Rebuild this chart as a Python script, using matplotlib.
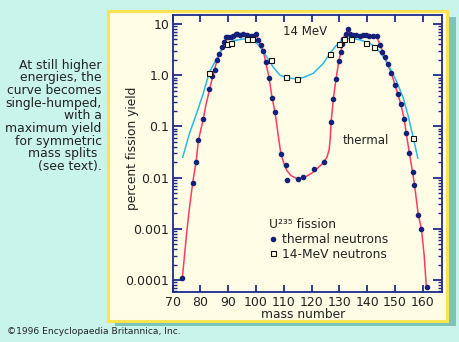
import matplotlib
matplotlib.use("Agg")
import matplotlib.pyplot as plt
from matplotlib.patches import Rectangle
from matplotlib.lines import Line2D
from matplotlib.ticker import LogLocator, NullFormatter, FixedLocator, FixedFormatter
import numpy as np

# ---------------- data ----------------
thermal_mass = [73.4, 77.2, 78.4, 79.2, 81.0, 83.2, 84.3, 85.1, 85.8, 86.7, 87.6, 88.5,
                89.2, 90.0, 91.0, 91.8, 92.7, 93.3, 94.2, 95.4, 96.6, 98.1, 98.9, 100.0,
                100.8, 101.6, 102.6, 103.5, 104.7, 105.7, 106.9, 108.8, 110.7, 111.0,
                115.0, 116.9, 120.8, 124.6, 127.0, 127.8, 128.8, 129.8, 130.4, 131.0,
                131.4, 132.3, 133.2, 133.8, 134.8, 136.0, 137.4, 138.6, 139.6, 140.8,
                142.0, 143.4, 144.6, 145.4, 146.5, 147.3, 148.7, 150.0, 151.0, 152.1,
                153.3, 154.0, 155.1, 156.3, 157.0, 158.3, 159.5, 161.4]
thermal_yield = [1.1e-4, 8.0e-3, 2.0e-2, 5.5e-2, 0.14, 0.53, 0.98, 1.27, 2.0, 2.6, 3.5, 4.4,
                 5.5, 5.65, 5.65, 5.9, 6.3, 6.3, 6.1, 6.3, 6.0, 5.8, 5.9, 6.4,
                 4.9, 3.9, 3.0, 1.8, 0.88, 0.36, 0.19, 0.029, 0.018, 0.009,
                 0.0094, 0.0105, 0.0148, 0.020, 0.124, 0.35, 0.86, 1.9, 2.8, 4.1,
                 5.0, 6.3, 8.0, 6.4, 6.1, 6.1, 5.8, 6.1, 6.2, 5.8,
                 5.9, 5.8, 3.95, 2.9, 2.3, 1.66, 1.09, 0.64, 0.43, 0.275,
                 0.14, 0.074, 0.030, 0.0127, 0.0072, 0.0019, 0.001, 7.4e-5]

mev14_mass = [83.1, 89.4, 90.8, 96.6, 98.7, 105.2, 110.8, 114.6, 126.5, 129.9, 131.8,
              134.3, 139.5, 142.5, 156.4]
mev14_yield = [1.12, 4.0, 4.3, 5.1, 5.1, 1.98, 0.92, 0.84, 2.56, 4.1, 5.2,
               5.1, 4.3, 3.5, 0.059]

thermal_curve_mass = [73.4, 75.0, 76.0, 77.2, 78.4, 79.3, 81.0, 82.0, 83.3, 84.4, 85.5,
                      86.7, 88.0, 89.2, 90.5, 92.0, 94.0, 96.0, 98.0, 99.3, 100.0, 100.8,
                      101.6, 102.6, 103.5, 104.7, 105.7, 106.9, 108.0, 108.9, 110.0, 111.0,
                      112.5, 114.5, 116.0, 118.0, 120.0, 122.0, 124.0, 125.5, 126.3, 126.7,
                      127.0, 127.8, 128.8, 129.8, 130.5, 131.1, 131.8, 132.6, 133.2, 133.8,
                      135.0, 137.0, 139.0, 141.0, 143.3, 144.6, 145.5, 146.5, 147.3, 148.7,
                      150.0, 151.0, 152.1, 153.3, 154.0, 155.1, 156.3, 157.0, 158.3, 159.5,
                      160.5, 161.3]
thermal_curve_yield = [1.0e-4, 8.0e-4, 2.5e-3, 8.0e-3, 2.0e-2, 5.5e-2, 0.14, 0.27, 0.53,
                       0.95, 1.6, 2.5, 3.6, 4.8, 5.5, 6.0, 6.2, 6.1, 5.9, 6.0, 6.2, 4.9,
                       3.9, 3.0, 1.8, 0.88, 0.38, 0.18, 0.065, 0.03, 0.019, 0.014,
                       0.011, 0.0096, 0.0097, 0.0105, 0.0122, 0.015, 0.019, 0.025, 0.035,
                       0.06, 0.12, 0.35, 0.86, 1.9, 2.8, 4.2, 6.0, 7.0, 8.0, 6.5,
                       6.1, 5.9, 6.1, 5.9, 5.8, 4.0, 2.9, 2.2, 1.65, 1.1,
                       0.64, 0.43, 0.27, 0.14, 0.075, 0.032, 0.013, 0.0075, 0.002, 0.001,
                       3.0e-4, 7.0e-5]

mev14_curve_mass = [73.6, 76.0, 78.6, 81.0, 83.2, 85.8, 88.2, 91.8, 95.4, 99.0, 101.4,
                    103.8, 106.2, 108.6, 111.0, 114.6, 117.5, 120.6, 124.2, 126.6, 129.0,
                    131.4, 133.8, 137.4, 141.0, 143.4, 145.8, 148.2, 150.6, 153.0, 154.8,
                    156.6, 158.2]
mev14_curve_yield = [0.025, 0.072, 0.18, 0.44, 1.15, 2.1, 3.6, 4.7, 5.1, 4.9, 3.6,
                     2.3, 1.43, 1.0, 0.9, 0.84, 0.92, 1.09, 1.7, 2.7, 3.9,
                     5.0, 5.25, 4.9, 4.2, 3.35, 2.3, 1.36, 0.75, 0.355, 0.155,
                     0.059, 0.024]

x_ticks = [70, 80, 90, 100, 110, 120, 130, 140, 150, 160]
y_ticks = [1e-4, 1e-3, 1e-2, 1e-1, 1.0, 10.0]
y_tick_labels = ["0.0001", "0.001", "0.01", "0.1", "1.0", "10"]

side_note = ["At still higher", "energies, the", "curve becomes", "single-humped,",
             "with a", "maximum yield", "for symmetric", "mass splits ", "(see text)."]

# ---------------- styling ----------------
W, H = 460, 342
NAVY = "#1d2b8f"
RED = "#ff3a66"
CYAN = "#29b9e6"
DOT = "#152078"
CREAM = "#fffde6"
YELLOW = "#ffe24f"
SHADOW = "#7ec2ba"
BG = "#c9f4ec"
TXT = "#222222"

plt.rcParams["font.family"] = ["DejaVu Sans"]

fig = plt.figure(figsize=(W / 100, H / 100), dpi=100, facecolor=BG)

fig.patches.append(Rectangle((115 / W, 1 - 326 / H), 341 / W, 309 / H,
                             transform=fig.transFigure, facecolor=SHADOW,
                             edgecolor="none", zorder=-3))
fig.patches.append(Rectangle((108.5 / W, 1 - 320.5 / H), 339 / W, 310 / H,
                             transform=fig.transFigure, facecolor=CREAM,
                             edgecolor=YELLOW, linewidth=2.2, zorder=-2))

ax = fig.add_axes([172.7 / W, 1 - 292.3 / H, 269 / W, 277 / H])
ax.set_zorder(1)
ax.set_facecolor(CREAM)
ax.set_yscale("log")
ax.set_xlim(70, 166.8)
ax.set_ylim(10 ** -4.24, 10 ** 1.17)

ax.plot(thermal_curve_mass, thermal_curve_yield, color=RED, lw=1.1, zorder=2)
ax.plot(mev14_curve_mass, mev14_curve_yield, color=CYAN, lw=1.1, zorder=2)
ax.plot(thermal_mass, thermal_yield, ls="none", marker="o", ms=3.0,
        mfc=DOT, mec=DOT, zorder=3)
ax.plot(mev14_mass, mev14_yield, ls="none", marker="s", ms=3.6,
        mfc=CREAM, mec="#111111", mew=0.8, zorder=4)

for s in ax.spines.values():
    s.set_color(NAVY)
    s.set_linewidth(1.3)

ax.xaxis.set_major_locator(FixedLocator(x_ticks))
ax.set_xticklabels([str(v) for v in x_ticks])
ax.yaxis.set_major_locator(FixedLocator(y_ticks))
ax.yaxis.set_major_formatter(FixedFormatter(y_tick_labels))
ax.yaxis.set_minor_locator(LogLocator(base=10, subs=np.arange(2, 10), numticks=20))
ax.yaxis.set_minor_formatter(NullFormatter())

ax.tick_params(which="both", direction="in", top=True, right=True, color=NAVY,
               labelcolor=TXT, labelsize=9)
ax.tick_params(axis="x", which="major", length=4.8, width=1.3, pad=3.0)
ax.tick_params(axis="y", which="major", length=6.5, width=1.3, pad=2.5)
ax.tick_params(axis="y", which="minor", length=3.2, width=1.0)

ax.set_xlabel("mass number", fontsize=8.8, color=TXT, va="center")
ax.xaxis.set_label_coords(0.4844, -0.081)
ax.set_ylabel("percent fission yield", fontsize=8.8, color=TXT, va="center")
ax.yaxis.set_label_coords(-0.1476, 0.521)

ax.text(117.6, 7.3, "14 MeV", fontsize=8.5, color=TXT, ha="center", va="center")
ax.text(139.5, 0.054, "thermal", fontsize=8.5, color=TXT, ha="center", va="center")

handles = [Line2D([], [], ls="none", marker="o", ms=3.0, mfc=DOT, mec=DOT),
           Line2D([], [], ls="none", marker="s", ms=3.6, mfc=CREAM, mec="#111111", mew=0.8)]
leg = ax.legend(handles, ["thermal neutrons", "14-MeV neutrons"],
                title="U²³⁵ fission", alignment="left", frameon=False,
                loc="upper left", bbox_to_anchor=(269 / W, 1 - 218 / H),
                bbox_transform=fig.transFigure, borderpad=0, borderaxespad=0,
                handlelength=0.6, handletextpad=0.48, labelspacing=0.15,
                fontsize=8.8, title_fontsize=8.8)
for t in leg.get_texts():
    t.set_color(TXT)
leg.get_title().set_color(TXT)

y0 = 65.0
for i, line in enumerate(side_note):
    fig.text(101.7 / W, 1 - (y0 + i * 12.67) / H, line, fontsize=8.9, color=TXT,
             ha="right", va="center")

fig.text(7.3 / W, 1 - 331.7 / H, "©1996 Encyclopaedia Britannica, Inc.",
         fontsize=6.6, color=TXT, ha="left", va="center")

fig.savefig("out.png", dpi=100, facecolor=BG)
